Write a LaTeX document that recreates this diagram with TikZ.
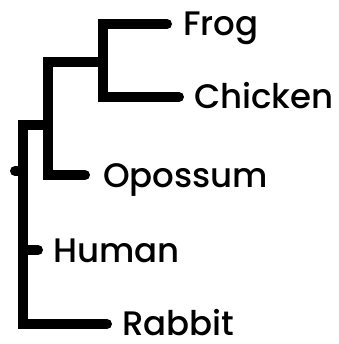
\documentclass[tikz,border=0pt]{standalone}
\usepackage{fontspec}
\setmainfont{Poppins}[UprightFont={* Medium}]
\usetikzlibrary{positioning}

\begin{document}
\begin{tikzpicture}[
    x=1pt, y=-1pt,
    taxon/.style={anchor=base west, inner sep=0pt, font=\fontsize{34}{40}\selectfont},
    branch/.style={line width=10pt, line cap=round, line join=miter}
  ]
  \useasboundingbox (0,0) rectangle (338,344);
  % Internal nodes
  \coordinate (root) at (23,171);
  \coordinate (mam) at (48,125);
  \coordinate (tet) at (103,62);
  % Leaves
  \coordinate (frogtip) at (167,24);
  \coordinate (chicktip) at (179,97);
  \coordinate (opotip) at (85,175);
  \coordinate (humtip) at (38,250);
  \coordinate (rabtip) at (107,324);
  \node[taxon] (frog) at (183,36) {Frog};
  \node[taxon] (chicken) at (194,109) {Chicken};
  \node[taxon] (opossum) at (103,187) {Opossum};
  \node[taxon] (human) at (53,262) {Human};
  \node[taxon] (rabbit) at (122,335) {Rabbit};
  % Branches
  \draw[branch] (15,171) -- (root);
  \draw[branch] (rabtip) -| (root |- mam) -- (mam);
  \draw[branch] (root |- humtip) -- (humtip);
  \draw[branch] (opotip) -| (mam |- tet) -- (tet);
  \draw[branch] (chicktip) -| (tet |- frogtip) -- (frogtip);
\end{tikzpicture}
\end{document}
